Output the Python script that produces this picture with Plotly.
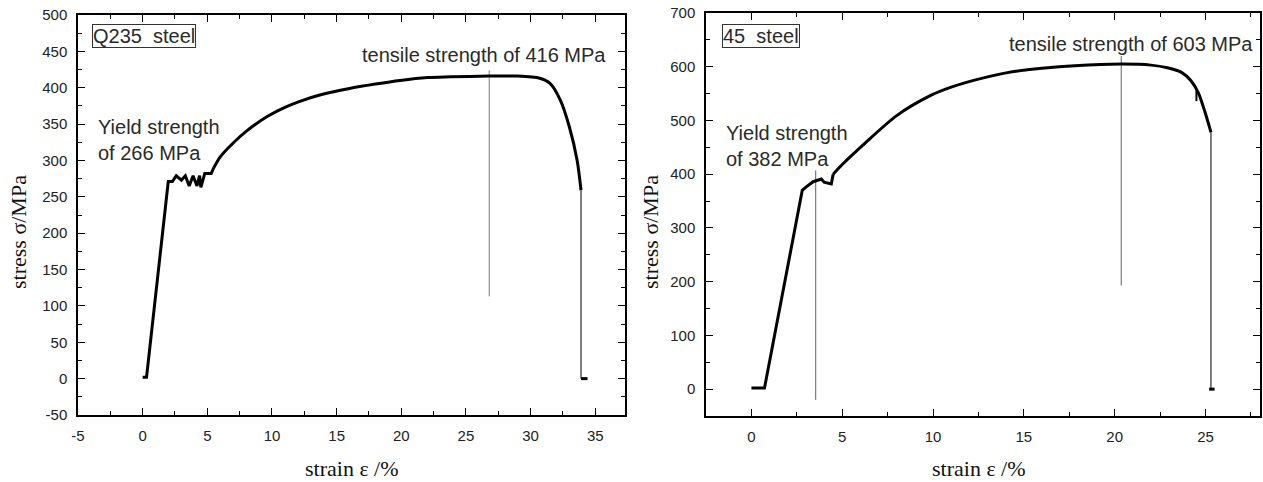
import plotly.graph_objects as go

# ---------------- data ----------------
# Q235 steel stress-strain curve
q235_strain = [0, 0.3, 1.98, 2.3, 2.6, 3.0, 3.3, 3.6, 3.9, 4.2, 4.4, 4.5, 4.8, 5.3, 5.5,
               6.0, 7.0, 8.0, 9.6, 11.0, 12.1, 13.7, 16.0, 18.0, 19.9, 22.0, 23.8, 26.8,
               29.0, 30.7, 31.5, 32.3, 33.0, 33.6, 33.9]
q235_stress = [2, 2, 271, 271, 279, 273, 279, 265, 279, 265, 279, 263, 282, 282, 290,
               305, 324, 340, 360, 373, 381, 390, 399, 405, 410, 414, 415, 416,
               416, 413, 406, 383, 346, 300, 259]
q235_yield_end = 14  # index where the yield plateau ends and hardening starts
q235_break_strain = [33.9, 33.9]
q235_break_stress = [259, 0]
q235_tail_strain = [33.9, 34.4]
q235_tail_stress = [0, 0]
q235_tensile_mark_x = [26.8, 26.8]
q235_tensile_mark_y = [113, 424]

# 45 steel stress-strain curve
s45_strain = [0, 0.72, 2.8, 3.0, 3.4, 3.85, 4.0, 4.4, 4.5, 5.0, 6.2, 8.0, 9.9, 11.0,
              12.5, 14.1, 16.0, 17.8, 20.4, 22.0, 22.9, 23.7, 24.2, 24.6, 24.95, 25.3]
s45_stress = [2, 2, 370, 376, 386, 391, 385, 382, 400, 418, 456, 509, 547, 562,
              577, 589, 597, 602, 605, 603, 598, 589, 574, 552, 518, 478]
s45_yield_end = 8
s45_glitch_strain = [24.5, 24.5]
s45_glitch_stress = [556, 536]
s45_break_strain = [25.3, 25.3]
s45_break_stress = [478, 0]
s45_tail_strain = [25.2, 25.5]
s45_tail_stress = [0, 0]
s45_tensile_mark_x = [20.36, 20.36]
s45_tensile_mark_y = [193, 620]
s45_yield_mark_x = [3.54, 3.54]
s45_yield_mark_y = [-20, 407]

# tick values / labels
q235_xticks = [-5, 0, 5, 10, 15, 20, 25, 30, 35]
q235_yticks = [-50, 0, 50, 100, 150, 200, 250, 300, 350, 400, 450, 500]
s45_xticks = [0, 5, 10, 15, 20, 25]
s45_yticks = [0, 100, 200, 300, 400, 500, 600, 700]

# text labels
q235_name = "Q235  steel"
s45_name = "45  steel"
q235_yield_text = "Yield strength<br>of 266 MPa"
q235_tensile_text = "tensile strength of 416 MPa"
s45_yield_text = "Yield strength<br>of 382 MPa"
s45_tensile_text = "tensile strength of 603 MPa"
x_title = "strain \u03b5 /%"
y_title = "stress \u03c3/MPa"

# ---------------- figure ----------------
W, H = 1263, 482
fig = go.Figure()

CURVE = dict(color="black", width=3)
CURVE_S = dict(color="black", width=3, shape="spline", smoothing=0.8)
THIN = dict(color="black", width=1)
MARK = dict(color="#7a7a7a", width=1)
MARK2 = dict(color="#606060", width=1)


def add(x, y, line, xa, ya):
    fig.add_trace(go.Scatter(x=x, y=y, mode="lines", line=line, xaxis=xa, yaxis=ya,
                             showlegend=False, hoverinfo="skip"))


# left panel
add(q235_tensile_mark_x, q235_tensile_mark_y, MARK, "x", "y")
k = q235_yield_end
add(q235_strain[:k + 1], q235_stress[:k + 1], CURVE, "x", "y")
add(q235_strain[k:], q235_stress[k:], CURVE_S, "x", "y")
add(q235_break_strain, q235_break_stress, THIN, "x", "y")
add(q235_tail_strain, q235_tail_stress, CURVE, "x", "y")
# right panel
add(s45_tensile_mark_x, s45_tensile_mark_y, MARK2, "x2", "y2")
add(s45_yield_mark_x, s45_yield_mark_y, MARK2, "x2", "y2")
k = s45_yield_end
add(s45_strain[:k + 1], s45_stress[:k + 1], CURVE, "x2", "y2")
add(s45_strain[k:], s45_stress[k:], CURVE_S, "x2", "y2")
add(s45_glitch_strain, s45_glitch_stress, dict(color="black", width=2), "x2", "y2")
add(s45_break_strain, s45_break_stress, THIN, "x2", "y2")
add(s45_tail_strain, s45_tail_stress, CURVE, "x2", "y2")

TICKFONT = dict(family="Liberation Sans, Arial, sans-serif", size=15, color="#222")
TEXTFONT = dict(family="Liberation Sans, Arial, sans-serif", size=20, color="#2a2a2a")
TITLEFONT = dict(family="Liberation Serif, Times New Roman, serif", size=22, color="#111")


def axis(domain, rng, ticks, minor, anchor):
    return dict(domain=domain, range=rng, tickmode="array", tickvals=ticks,
                ticktext=[str(t) for t in ticks], ticks="inside",
                ticklen=7, tickwidth=1.3, tickcolor="black", showline=True,
                linecolor="black", linewidth=1.5, mirror="ticks", showgrid=False,
                zeroline=False, tickfont=TICKFONT, anchor=anchor, automargin=False,
                ticklabelstandoff=6,
                minor=dict(ticks="inside", ticklen=4, dtick=minor, tick0=0,
                           tickcolor="black", tickwidth=1.2, showgrid=False))


fig.update_layout(
    width=W, height=H, margin=dict(l=0, r=0, t=0, b=0, pad=0, autoexpand=False),
    paper_bgcolor="white", plot_bgcolor="white",
    xaxis=axis([78 / W, 625 / W], [-5, 37.3], q235_xticks, 2.5, "y"),
    yaxis=axis([1 - 415 / H, 1 - 15 / H], [-50, 500], q235_yticks, 25, "x"),
    xaxis2=axis([706 / W, 1260 / W], [-2.5, 28], s45_xticks, 2.5, "y2"),
    yaxis2=axis([1 - 416 / H, 1 - 13 / H], [-50, 700], s45_yticks, 50, "x2"),
)

ann = []
# panel name boxes
for txt, cx in [(q235_name, 144 / W), (s45_name, 761 / W)]:
    ann.append(dict(text=txt, x=cx, y=1 - 36.5 / H, xref="paper", yref="paper",
                    showarrow=False, font=TEXTFONT, bordercolor="#333", borderwidth=1,
                    borderpad=0, bgcolor="white", xanchor="center", yanchor="middle"))
# curve annotations
ann.append(dict(text=q235_yield_text, x=-3.6, y=328, xref="x", yref="y", showarrow=False,
                font=TEXTFONT, align="left", xanchor="left", yanchor="middle"))
ann.append(dict(text=q235_tensile_text, x=26.4, y=445, xref="x", yref="y", showarrow=False,
                font=TEXTFONT, xanchor="center", yanchor="middle"))
ann.append(dict(text=s45_yield_text, x=-1.5, y=452, xref="x2", yref="y2", showarrow=False,
                font=TEXTFONT, align="left", xanchor="left", yanchor="middle"))
ann.append(dict(text=s45_tensile_text, x=20.9, y=642, xref="x2", yref="y2", showarrow=False,
                font=TEXTFONT, xanchor="center", yanchor="middle"))
# axis titles
for cx in [352 / W, 979 / W]:
    ann.append(dict(text=x_title, x=cx, y=1 - 468 / H, xref="paper", yref="paper",
                    showarrow=False, font=TITLEFONT, xanchor="center", yanchor="middle"))
for cx in [18 / W, 650 / W]:
    ann.append(dict(text=y_title, x=cx, y=1 - 232 / H, xref="paper", yref="paper",
                    showarrow=False, font=TITLEFONT, textangle=-90,
                    xanchor="center", yanchor="middle"))
fig.update_layout(annotations=ann)

fig.write_html("out.html", config={"displayModeBar": False},
               post_script="document.body.style.margin='0';"
                           "document.body.style.overflow='hidden';")
